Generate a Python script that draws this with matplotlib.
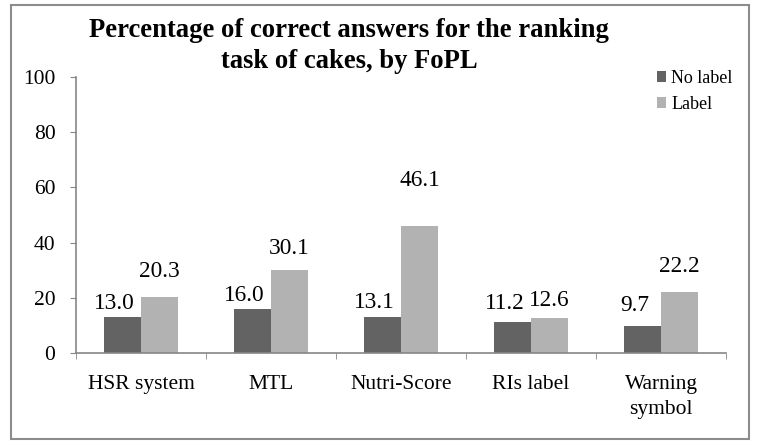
import numpy as np
import matplotlib
matplotlib.use("Agg")
import matplotlib.pyplot as plt
from matplotlib.patches import Rectangle

plt.rcParams['font.family'] = ['Liberation Serif', 'DejaVu Serif']

categories = ["HSR system", "MTL", "Nutri-Score", "RIs label", "Warning\nsymbol"]
no_label = [13.0, 16.0, 13.1, 11.2, 9.7]
label = [20.3, 30.1, 46.1, 12.6, 22.2]

# label lift above each bar (pixels), as placed in the original
lift_dark = [8, 8, 9, 13, 15]
lift_light = [20, 16, 40, 12, 20]

dark = "#636363"
light = "#b2b2b2"
axis_col = "#868686"

W, H = 763, 443
fig = plt.figure(figsize=(W/100, H/100), dpi=100)

# outer frame
fig.patches.append(Rectangle((11/W, 4/H), 738/W, 434/H, transform=fig.transFigure,
                             fill=False, edgecolor="#8c8c8c", linewidth=1.5))

ax = fig.add_axes([76/W, 90/H, 650/W, 276/H])

x = np.arange(len(categories))
w = 0.285
ax.bar(x - w/2, no_label, w, color=dark, label="No label")
ax.bar(x + w/2, label, w, color=light, label="Label")

for xi, v, d in zip(x - w/2, no_label, lift_dark):
    ax.annotate("%.1f" % v, (xi, v), xytext=(-8, d), textcoords="offset pixels",
                ha="center", va="baseline", fontsize=16.8)
for xi, v, d in zip(x + w/2, label, lift_light):
    ax.annotate("%.1f" % v, (xi, v), xytext=(0, d), textcoords="offset pixels",
                ha="center", va="baseline", fontsize=16.8)

ax.set_xlim(-0.5, len(categories) - 0.5)
ax.set_ylim(0, 100)
ax.set_yticks(range(0, 101, 20))
ax.set_xticks(x)
ax.set_xticklabels(categories, fontsize=15.5, linespacing=1.4)
ax.set_xticks(np.arange(-0.5, len(categories)), minor=True)
ax.tick_params(axis="x", which="major", length=0, pad=16)
ax.tick_params(axis="x", which="minor", length=4.3, color=axis_col, direction="out")
ax.tick_params(axis="y", length=4.3, color=axis_col, labelsize=15.5, pad=10.5)

for s in ["top", "right"]:
    ax.spines[s].set_visible(False)
for s in ["left", "bottom"]:
    ax.spines[s].set_color(axis_col)
    ax.spines[s].set_linewidth(1.2)

fig.text(349/W, 1 - 18/H, "Percentage of correct answers for the ranking\ntask of cakes, by FoPL",
         ha="center", va="top", fontsize=19.2, fontweight="bold", linespacing=1.3)

ax.legend(loc="upper left", bbox_to_anchor=(657/W, 1 - 70/H), bbox_transform=fig.transFigure,
          frameon=False, fontsize=13, handlelength=0.5, handleheight=0.5,
          handletextpad=0.3, labelspacing=0.5, borderpad=0, borderaxespad=0)

fig.savefig("out.png", dpi=100)
